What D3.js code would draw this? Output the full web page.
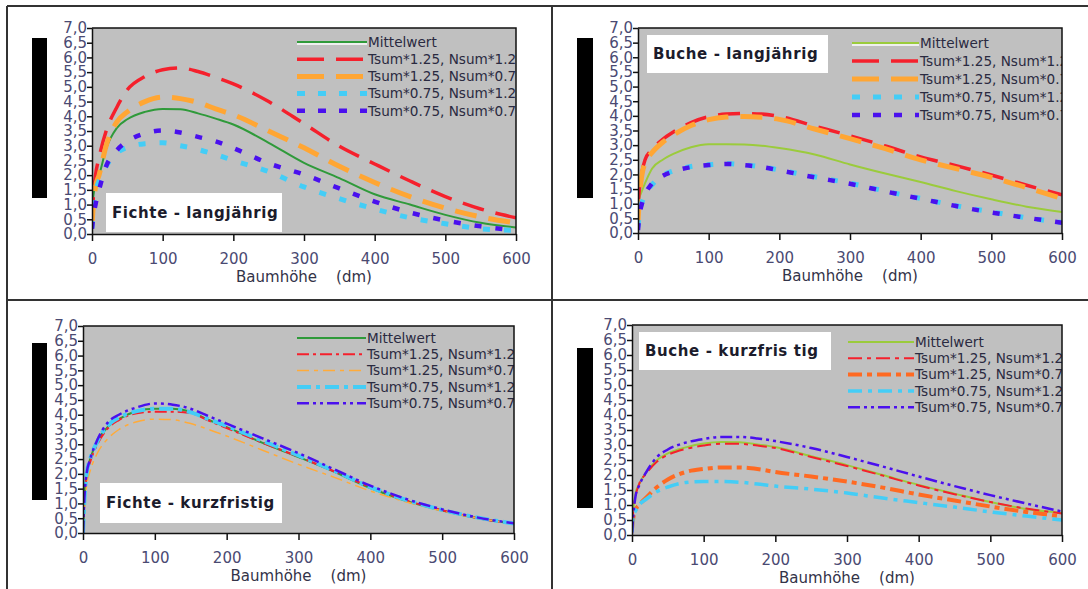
<!DOCTYPE html>
<html>
<head>
<meta charset="utf-8">
<script src="https://cdn.jsdelivr.net/npm/d3@7"></script>
<style>
body { margin: 0; background: #fff; }
svg { display: block; font-family: "DejaVu Sans", sans-serif; }
</style>
</head>
<body>
<svg id="chart" width="1088" height="589"></svg>
<script>
// tree height in dm, shared by all series
const heights = [0, 2, 5, 10, 20, 35, 50, 75, 100, 125, 150, 175, 200, 250, 300, 350, 400, 450, 500, 550, 600];

const xTicks = [0, 100, 200, 300, 400, 500, 600];
const yTicks = [0, 0.5, 1, 1.5, 2, 2.5, 3, 3.5, 4, 4.5, 5, 5.5, 6, 6.5, 7];
const yTickLabels = ["0,0", "0,5", "1,0", "1,5", "2,0", "2,5", "3,0", "3,5", "4,0", "4,5", "5,0", "5,5", "6,0", "6,5", "7,0"];

const seriesNames = ["Mittelwert", "Tsum*1.25, Nsum*1.2", "Tsum*1.25, Nsum*0.7", "Tsum*0.75, Nsum*1.2", "Tsum*0.75, Nsum*0.7"];
const panelTitles = ["Fichte - langjährig", "Buche - langjährig", "Fichte - kurzfristig", "Buche - kurzfris tig"];
const xTitle = "Baumhöhe    (dm)";

// Fichte - langjährig
const fiLangMittel = [0.8, 1.3, 1.7, 2.0, 2.9, 3.6, 3.9, 4.15, 4.25, 4.24, 4.1, 3.92, 3.72, 3.1, 2.42, 1.9, 1.35, 1.0, 0.65, 0.38, 0.22];
const fiLangT125N12 = [0.5, 1.3, 2.0, 2.6, 3.5, 4.3, 4.9, 5.35, 5.58, 5.64, 5.52, 5.32, 5.1, 4.5, 3.75, 2.98, 2.38, 1.8, 1.27, 0.85, 0.55];
const fiLangT125N07 = [0.3, 1.0, 1.6, 2.0, 3.0, 3.8, 4.15, 4.5, 4.65, 4.6, 4.47, 4.25, 4.05, 3.5, 2.93, 2.3, 1.75, 1.27, 0.88, 0.58, 0.38];
const fiLangT075N12 = [0.2, 0.8, 1.4, 1.8, 2.3, 2.75, 2.95, 3.07, 3.1, 3.0, 2.87, 2.7, 2.5, 2.12, 1.6, 1.2, 0.85, 0.55, 0.35, 0.18, 0.12];
const fiLangT075N07 = [0.18, 0.6, 1.0, 1.5, 2.3, 2.84, 3.15, 3.42, 3.52, 3.45, 3.3, 3.15, 2.92, 2.4, 2.02, 1.55, 1.1, 0.73, 0.46, 0.26, 0.12];

// Buche - langjährig
const buLangMittel = [0.9, 1.2, 1.4, 1.7, 2.2, 2.5, 2.7, 2.93, 3.03, 3.03, 3.02, 2.98, 2.9, 2.68, 2.34, 2.03, 1.74, 1.43, 1.15, 0.9, 0.72];
const buLangT125N12 = [0.9, 1.5, 2.0, 2.5, 2.85, 3.2, 3.45, 3.77, 3.97, 4.06, 4.08, 4.06, 3.98, 3.65, 3.32, 2.97, 2.6, 2.3, 1.98, 1.63, 1.3];
const buLangT125N07 = [0.4, 1.2, 1.9, 2.4, 2.75, 3.1, 3.35, 3.67, 3.87, 3.96, 3.98, 3.95, 3.88, 3.55, 3.22, 2.88, 2.5, 2.2, 1.9, 1.55, 1.18];
const buLangT075N12 = [0.2, 0.7, 1.0, 1.3, 1.65, 1.97, 2.12, 2.27, 2.33, 2.37, 2.33, 2.26, 2.15, 1.92, 1.7, 1.43, 1.18, 0.93, 0.72, 0.52, 0.36];
const buLangT075N07 = [0.1, 0.6, 0.95, 1.3, 1.7, 1.95, 2.1, 2.25, 2.32, 2.36, 2.32, 2.25, 2.14, 1.9, 1.68, 1.42, 1.17, 0.92, 0.7, 0.52, 0.35];

// Fichte - kurzfristig
const fiKurzMittel = [0.0, 1.2, 2.0, 2.5, 3.1, 3.6, 3.85, 4.12, 4.2, 4.2, 4.1, 3.82, 3.58, 3.05, 2.57, 2.07, 1.52, 1.08, 0.76, 0.5, 0.31];
const fiKurzT125N12 = [0.0, 1.1, 1.9, 2.4, 3.0, 3.55, 3.82, 4.05, 4.1, 4.1, 4.05, 3.8, 3.55, 3.05, 2.58, 2.08, 1.55, 1.1, 0.77, 0.5, 0.31];
const fiKurzT125N07 = [0.0, 0.9, 1.6, 2.1, 2.7, 3.2, 3.5, 3.76, 3.85, 3.83, 3.7, 3.5, 3.28, 2.8, 2.32, 1.88, 1.42, 1.05, 0.75, 0.5, 0.31];
const fiKurzT075N12 = [0.0, 1.1, 2.0, 2.5, 3.1, 3.65, 3.9, 4.12, 4.2, 4.2, 4.08, 3.85, 3.62, 3.12, 2.62, 2.1, 1.55, 1.12, 0.78, 0.52, 0.32];
const fiKurzT075N07 = [0.0, 1.2, 2.0, 2.5, 3.15, 3.75, 4.0, 4.25, 4.38, 4.34, 4.2, 3.95, 3.7, 3.2, 2.7, 2.15, 1.6, 1.15, 0.8, 0.52, 0.33];

// Buche - kurzfristig
const buKurzMittel = [0.45, 0.9, 1.4, 1.7, 2.1, 2.5, 2.72, 2.92, 3.05, 3.1, 3.09, 3.02, 2.93, 2.63, 2.33, 2.0, 1.67, 1.38, 1.1, 0.87, 0.74];
const buKurzT125N12 = [0.4, 0.85, 1.3, 1.7, 2.05, 2.45, 2.67, 2.87, 2.98, 3.04, 3.04, 2.98, 2.9, 2.6, 2.3, 1.98, 1.65, 1.36, 1.1, 0.88, 0.72];
const buKurzT125N07 = [0.2, 0.6, 0.85, 1.0, 1.25, 1.6, 1.85, 2.1, 2.2, 2.25, 2.25, 2.2, 2.1, 1.95, 1.78, 1.58, 1.35, 1.15, 0.95, 0.77, 0.62];
const buKurzT075N12 = [0.1, 0.65, 0.8, 1.0, 1.2, 1.45, 1.6, 1.75, 1.78, 1.78, 1.76, 1.7, 1.63, 1.53, 1.4, 1.23, 1.08, 0.93, 0.77, 0.63, 0.5];
const buKurzT075N07 = [0.05, 0.7, 1.3, 1.65, 2.1, 2.6, 2.85, 3.08, 3.2, 3.27, 3.27, 3.22, 3.13, 2.9, 2.6, 2.28, 1.95, 1.63, 1.33, 1.05, 0.78];

// line styles: [colour, width, dash in plot, dash in legend]
const langStylesFi = [
    ["#2f9a3a", 2, null, null],
    ["#f5202c", 3.5, "22,12", "27,12"],
    ["#ffa634", 5, "22,12", "27,12"],
    ["#44cdf6", 5, "7,14", "8,13"],
    ["#4a10ee", 4.5, "7,14", "8,13"]
];
const langStylesBu = [
    ["#9bcb3c", 2, null, null],
    ["#f5202c", 3.5, "22,12", "27,12"],
    ["#ffa634", 5, "22,12", "27,12"],
    ["#44cdf6", 5, "7,14", "8,13"],
    ["#4a10ee", 4.5, "7,14", "8,13"]
];
const kurzStylesFi = [
    ["#2f9a3a", 2, null, null],
    ["#f5202c", 2, "12,4,3,4", "12,4,3,4"],
    ["#ffab3a", 1.5, "12,5,4,5", "12,5,4,5"],
    ["#44cdf6", 4, "14,5,4,5", "14,5,4,5"],
    ["#4a10ee", 2.5, "12,4,3,4,3,4", "12,4,3,4,3,4"]
];
const kurzStylesBu = [
    ["#9bcb3c", 2, null, null],
    ["#f5202c", 2, "14,5,4,5", "14,5,4,5"],
    ["#ff6a22", 4, "14,5,5,5", "14,5,5,5"],
    ["#44cdf6", 3.5, "14,6,4,6", "14,6,4,6"],
    ["#4a10ee", 2.5, "12,4,3,4,3,4", "12,4,3,4,3,4"]
];

const panels = [
    {title: panelTitles[0], x0: 92, x1: 516, y0: 28, y1: 234,
     box: [106, 193, 176, 39], bar: [32, 38, 15, 160],
     legend: {x: 297, y: 42, step: 17.2, len: 70, shadow: true},
     series: [fiLangMittel, fiLangT125N12, fiLangT125N07, fiLangT075N12, fiLangT075N07],
     styles: langStylesFi},
    {title: panelTitles[1], x0: 638, x1: 1062, y0: 28, y1: 233,
     box: [647, 35, 181, 38], bar: [577, 38, 16, 160],
     legend: {x: 852, y: 43, step: 18, len: 67, shadow: true},
     series: [buLangMittel, buLangT125N12, buLangT125N07, buLangT075N12, buLangT075N07],
     styles: langStylesBu},
    {title: panelTitles[2], x0: 83, x1: 514, y0: 326, y1: 533,
     box: [100, 483, 182, 40], bar: [32, 343, 15, 157],
     legend: {x: 297, y: 338, step: 16.3, len: 69, shadow: false},
     series: [fiKurzMittel, fiKurzT125N12, fiKurzT125N07, fiKurzT075N12, fiKurzT075N07],
     styles: kurzStylesFi},
    {title: panelTitles[3], x0: 632, x1: 1062, y0: 325, y1: 535,
     box: [639, 332, 192, 38], bar: [577, 348, 16, 160],
     legend: {x: 848, y: 342, step: 16.3, len: 66, shadow: false},
     series: [buKurzMittel, buKurzT125N12, buKurzT125N07, buKurzT075N12, buKurzT075N07],
     styles: kurzStylesBu}
];

const svg = d3.select("#chart");

// outer frame lines of the figure
const borders = [[7, 6, 1088, 6], [7, 6, 7, 589], [7, 300, 1088, 300], [552, 6, 552, 589]];
svg.selectAll("line.border")
    .data(borders)
    .enter()
    .append("line")
    .attr("x1", d => d[0]).attr("y1", d => d[1])
    .attr("x2", d => d[2]).attr("y2", d => d[3])
    .attr("stroke", "#333")
    .attr("stroke-width", 2);

function drawPanel(p, idx) {
    const x = d3.scaleLinear().domain([0, 600]).range([p.x0, p.x1]);
    const y = d3.scaleLinear().domain([0, 7]).range([p.y1, p.y0]);
    const g = svg.append("g");

    // black bar where the y axis title was
    g.append("rect")
        .attr("x", p.bar[0]).attr("y", p.bar[1])
        .attr("width", p.bar[2]).attr("height", p.bar[3])
        .attr("fill", "#000");

    g.append("rect")
        .attr("x", p.x0).attr("y", p.y0)
        .attr("width", p.x1 - p.x0).attr("height", p.y1 - p.y0)
        .attr("fill", "#c0c0c0");

    const clipId = "clip" + idx;
    g.append("clipPath").attr("id", clipId)
        .append("rect")
        .attr("x", p.x0).attr("y", p.y0)
        .attr("width", p.x1 - p.x0).attr("height", p.y1 - p.y0);

    // title box
    g.append("rect")
        .attr("x", p.box[0]).attr("y", p.box[1])
        .attr("width", p.box[2]).attr("height", p.box[3])
        .attr("fill", "#fff");
    g.append("text")
        .attr("x", p.box[0] + 6)
        .attr("y", p.box[1] + p.box[3] / 2)
        .attr("dy", "0.35em")
        .attr("font-size", 15)
        .attr("font-weight", "bold")
        .attr("letter-spacing", 0.6)
        .attr("fill", "#1c1c2c")
        .style("white-space", "pre")
        .text(p.title);

    const line = d3.line()
        .x((d, i) => x(heights[i]))
        .y(d => y(d))
        .curve(d3.curveMonotoneX);

    const plot = g.append("g").attr("clip-path", "url(#" + clipId + ")");
    plot.selectAll("path.series")
        .data(p.series)
        .enter()
        .append("path")
        .attr("fill", "none")
        .attr("stroke", (d, i) => p.styles[i][0])
        .attr("stroke-width", (d, i) => p.styles[i][1])
        .attr("stroke-dasharray", (d, i) => p.styles[i][2])
        .attr("d", line);

    // legend, clipped by the plot area
    const lg = plot.append("g");
    seriesNames.forEach(function(name, i) {
        let ly = p.legend.y + i * p.legend.step;
        if (i == 0 && p.legend.shadow) {
            lg.append("line")
                .attr("x1", p.legend.x).attr("x2", p.legend.x + p.legend.len)
                .attr("y1", ly + 2).attr("y2", ly + 2)
                .attr("stroke", "#fff").attr("stroke-width", 1.5);
        }
        lg.append("line")
            .attr("x1", p.legend.x).attr("x2", p.legend.x + p.legend.len)
            .attr("y1", ly).attr("y2", ly)
            .attr("stroke", p.styles[i][0])
            .attr("stroke-width", p.styles[i][1])
            .attr("stroke-dasharray", p.styles[i][3]);
        lg.append("text")
            .attr("x", p.legend.x + p.legend.len + 1)
            .attr("y", ly)
            .attr("dy", "0.35em")
            .attr("font-size", 13.6)
            .attr("fill", "#2a2a40")
            .text(name);
    });

    // top and right frame
    g.append("path")
        .attr("d", "M" + p.x0 + "," + p.y0 + "H" + p.x1 + "V" + p.y1)
        .attr("fill", "none")
        .attr("stroke", "#111")
        .attr("stroke-width", 1.5);

    const xAxis = g.append("g")
        .attr("transform", "translate(0," + p.y1 + ")")
        .call(d3.axisBottom(x).tickValues(xTicks).tickSize(7).tickSizeOuter(0).tickPadding(12));
    const yAxis = g.append("g")
        .attr("transform", "translate(" + p.x0 + ",0)")
        .call(d3.axisLeft(y).tickValues(yTicks).tickSize(5).tickSizeOuter(0).tickPadding(0)
            .tickFormat((d, i) => yTickLabels[i]));

    [xAxis, yAxis].forEach(function(a) {
        a.select(".domain").attr("stroke", "#111").attr("stroke-width", 1.5);
        a.selectAll(".tick line").attr("stroke", "#111").attr("stroke-width", 1.5);
        a.selectAll(".tick text")
            .attr("fill", "#4a4a72")
            .attr("font-size", 15)
            .attr("font-family", "DejaVu Sans, sans-serif");
    });

    g.append("text")
        .attr("x", (p.x0 + p.x1) / 2)
        .attr("y", p.y1 + 43)
        .attr("dy", "0.35em")
        .attr("text-anchor", "middle")
        .attr("font-size", 15)
        .attr("fill", "#333348")
        .style("white-space", "pre")
        .text(xTitle);
}

panels.forEach(drawPanel);
</script>
</body>
</html>
